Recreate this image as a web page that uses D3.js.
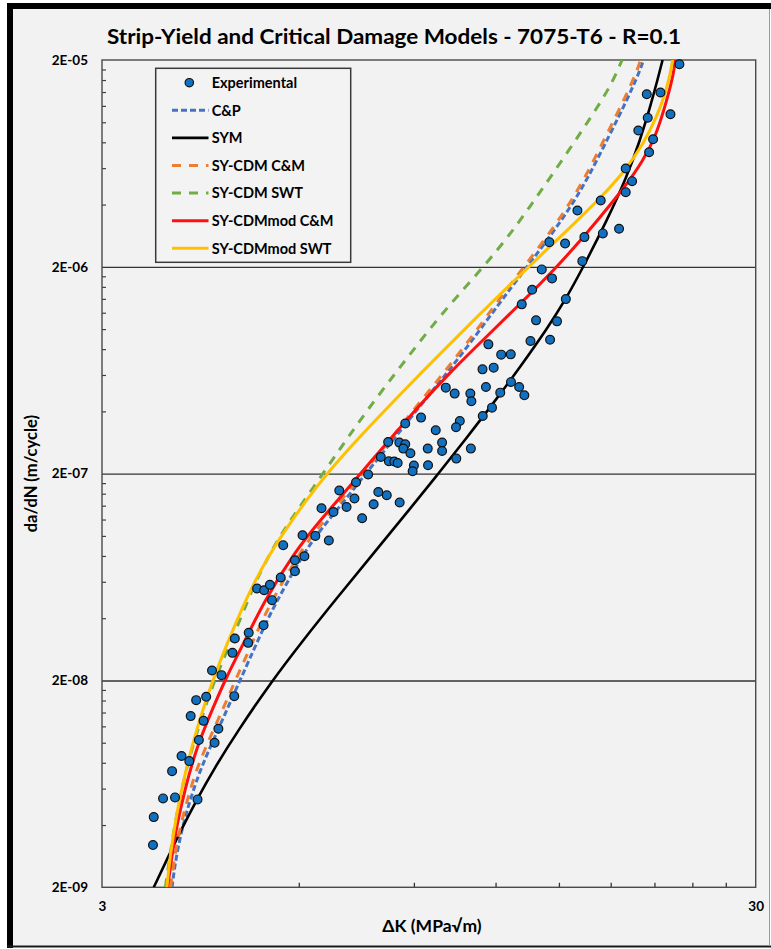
<!DOCTYPE html>
<html>
<head>
<meta charset="utf-8">
<script src="https://cdn.jsdelivr.net/npm/d3@7"></script>
<style>
  body { margin: 0; background: #fff; }
  svg text { font-family: Lato, "Open Sans", sans-serif; font-weight: bold; fill: #000; }
</style>
</head>
<body>
<script>
// ---- data: [deltaK (MPa*sqrt(m)), da/dN (m/cycle)] ----
const experimental = [
  [3.59,3.20e-9],[3.60,4.37e-9],[3.72,5.38e-9],[3.88,5.44e-9],[4.20,5.32e-9],[3.84,7.29e-9],
  [3.97,8.62e-9],[4.08,8.15e-9],[4.10,1.345e-8],[4.22,1.03e-8],[4.18,1.607e-8],[4.33,1.667e-8],
  [4.29,1.276e-8],[4.52,1.168e-8],[4.46,9.99e-9],[4.78,1.68e-8],[4.42,2.236e-8],[4.57,2.122e-8],
  [4.75,2.72e-8],[4.79,3.19e-8],[5.03,3.40e-8],[5.02,3.04e-8],[5.30,3.70e-8],[5.46,4.89e-8],
  [5.18,5.57e-8],[5.31,5.46e-8],[5.42,5.80e-8],[5.63,6.29e-8],[5.92,6.75e-8],[5.92,7.63e-8],
  [6.12,7.98e-8],[5.68,9.02e-8],[6.08,1.008e-7],[6.36,1.000e-7],[6.67,9.50e-8],[6.50,1.36e-7],
  [6.78,1.306e-7],[7.10,1.38e-7],[6.92,1.657e-7],[7.30,1.516e-7],[7.34,1.817e-7],[7.50,1.217e-7],
  [7.66,1.98e-7],[7.94,1.631e-7],[8.18,1.572e-7],[7.81,1.423e-7],[8.56,1.45e-7],[8.01,2.408e-7],
  [8.24,2.295e-7],[8.40,2.288e-7],[8.50,2.252e-7],[9.00,2.188e-7],[8.96,2.053e-7],[9.46,2.196e-7],
  [10.45,2.365e-7],[8.22,2.845e-7],[8.55,2.826e-7],[8.73,2.773e-7],[8.67,2.643e-7],[8.89,2.509e-7],
  [9.45,2.643e-7],[9.94,2.826e-7],[9.94,2.574e-7],[11.00,2.643e-7],[9.23,3.732e-7],[8.73,3.492e-7],
  [10.58,3.593e-7],[10.44,3.35e-7],[9.72,3.24e-7],[11.85,4.171e-7],[11.47,3.799e-7],[10.07,5.211e-7],
  [10.39,4.875e-7],[10.98,4.875e-7],[11.02,4.474e-7],[11.60,5.246e-7],[12.20,4.929e-7],[12.67,5.546e-7],
  [13.04,5.246e-7],[13.28,4.783e-7],[11.46,6.387e-7],[11.92,6.51e-7],[11.70,8.437e-7],[12.24,7.523e-7],
  [12.66,7.549e-7],[13.57,8.751e-7],[14.54,8.887e-7],[13.84,1.102e-6],[13.16,1.317e-6],[14.90,1.09e-6],
  [15.37,1.396e-6],[13.65,1.55e-6],[14.64,1.758e-6],[14.12,1.943e-6],[16.29,2.131e-6],[14.50,2.633e-6],
  [15.33,2.595e-6],[16.41,2.784e-6],[17.51,2.901e-6],[18.54,3.056e-6],[16.01,3.747e-6],[17.38,4.187e-6],
  [18.98,4.592e-6],[19.41,5.19e-6],[18.98,5.977e-6],[20.61,7.166e-6],[20.90,8.281e-6],[19.84,9.124e-6],
  [20.51,1.051e-5],[22.22,1.094e-5],[20.44,1.366e-5],[21.45,1.392e-5],[22.93,1.908e-5]
];

const cpCurve = [
  [3.84,2.00e-9],[3.88,2.61e-9],[3.97,3.78e-9],[4.09,5.28e-9],[4.24,7.38e-9],[4.44,1.030e-8],
  [4.68,1.492e-8],[4.88,2.007e-8],[5.17,3.020e-8],[5.49,4.572e-8],[6.13,8.431e-8],[6.47,1.065e-7],
  [7.10,1.521e-7],[7.71,2.123e-7],[8.08,2.537e-7],[8.98,3.872e-7],[9.99,5.844e-7],[10.97,8.531e-7],
  [12.19,1.346e-6],[13.08,1.808e-6],[14.20,2.538e-6],[15.42,3.644e-6],[16.55,5.23e-6],[17.96,8.794e-6],
  [19.05,1.274e-5],[19.96,1.778e-5],[20.20,2.00e-5]
];

const symCurve = [
  [3.60,2.00e-9],[3.77,2.72e-9],[3.97,3.83e-9],[4.19,5.31e-9],[4.44,7.38e-9],[4.83,1.131e-8],
  [5.46,1.990e-8],[6.03,3.003e-8],[6.89,5.094e-8],[7.90,8.613e-8],[8.88,1.353e-7],[9.81,2.000e-7],
  [10.84,2.984e-7],[11.91,4.386e-7],[13.08,6.546e-7],[14.45,1.024e-6],[15.38,1.403e-6],[16.28,1.950e-6],
  [17.75,3.333e-6],[19.05,5.438e-6],[19.96,8.172e-6],[20.68,1.180e-5],[21.27,1.640e-5],[21.61,2.00e-5]
];

const cdmCM = [
  [3.82,2.00e-9],[3.86,2.61e-9],[3.94,3.78e-9],[4.05,5.28e-9],[4.18,7.38e-9],[4.37,1.030e-8],
  [4.61,1.492e-8],[4.80,2.007e-8],[5.09,3.020e-8],[5.39,4.572e-8],[6.04,8.431e-8],[6.38,1.065e-7],
  [7.01,1.521e-7],[7.62,2.123e-7],[7.99,2.537e-7],[8.88,3.872e-7],[9.87,5.844e-7],[10.85,8.531e-7],
  [12.06,1.346e-6],[12.94,1.808e-6],[14.05,2.538e-6],[15.26,3.644e-6],[16.37,5.23e-6],[17.77,8.794e-6],
  [18.85,1.274e-5],[19.76,1.778e-5],[20.00,2.00e-5]
];

const cdmSWT = [
  [3.75,2.00e-9],[3.81,2.83e-9],[3.89,4.32e-9],[4.03,7.38e-9],[4.21,1.177e-8],[4.44,1.942e-8],
  [4.70,2.963e-8],[5.02,4.889e-8],[5.14,5.907e-8],[5.50,9.015e-8],[5.88,1.245e-7],[6.32,1.719e-7],
  [6.78,2.373e-7],[7.19,3.099e-7],[7.62,4.003e-7],[8.18,5.403e-7],[8.78,7.219e-7],[9.53,1.008e-6],
  [10.34,1.376e-6],[12.19,2.455e-6],[13.71,4.122e-6],[15.42,7.064e-6],[17.34,1.232e-5],[18.15,1.586e-5],
  [18.74,2.00e-5]
];

const modCM = [
  [3.78,2.00e-9],[3.83,2.71e-9],[3.90,3.93e-9],[4.02,6.02e-9],[4.19,9.56e-9],[4.42,1.438e-8],
  [4.65,2.083e-8],[4.97,3.133e-8],[5.30,4.781e-8],[5.89,8.219e-8],[6.47,1.191e-7],[7.10,1.662e-7],
  [7.71,2.270e-7],[8.08,2.682e-7],[9.09,4.139e-7],[10.22,6.178e-7],[11.63,9.221e-7],[13.16,1.346e-6],
  [14.89,1.994e-6],[16.35,2.784e-6],[17.34,3.477e-6],[18.83,4.769e-6],[20.20,6.535e-6],[21.17,8.794e-6],
  [21.93,1.274e-5],[22.47,1.714e-5],[22.59,2.00e-5]
];

const modSWT = [
  [3.77,2.00e-9],[3.81,2.79e-9],[3.90,4.52e-9],[4.02,7.17e-9],[4.19,1.177e-8],[4.41,1.929e-8],
  [4.65,2.970e-8],[4.98,4.921e-8],[5.25,6.871e-8],[5.55,9.278e-8],[6.17,1.506e-7],[6.70,2.081e-7],
  [7.27,2.782e-7],[7.71,3.399e-7],[8.57,4.826e-7],[9.87,7.599e-7],[11.10,1.101e-6],[12.19,1.473e-6],
  [13.71,2.103e-6],[15.42,2.992e-6],[17.34,4.286e-6],[18.83,5.698e-6],[20.20,7.868e-6],[21.17,1.060e-5],
  [21.80,1.366e-5],[22.19,1.697e-5],[22.39,2.00e-5]
];

// axis ticks
const xDomain = [3, 30];
const xMinorTicks = [6, 9, 12, 15, 18, 21, 24, 27];
const xLabelTicks = [3, 30];
const yMajorTicks = [2e-9, 2e-8, 2e-7, 2e-6, 2e-5];
const yMajorLabels = ["2E-09", "2E-08", "2E-07", "2E-06", "2E-05"];
const yGridTicks = [2e-8, 2e-7, 2e-6];

const titleText = "Strip-Yield and Critical Damage Models - 7075-T6 - R=0.1";
const xTitle = "\u0394K (MPa\u221Am)";
const yTitle = "da/dN (m/cycle)";

// series styling table
const series = [
  { name: "C&P",           data: cpCurve,  color: "#4472C4", dash: "6,3", width: 3 },
  { name: "SYM",           data: symCurve, color: "#000000", dash: null,  width: 2.6 },
  { name: "SY-CDM C&M",    data: cdmCM,    color: "#ED7D31", dash: "9,8", width: 3 },
  { name: "SY-CDM SWT",    data: cdmSWT,   color: "#70AD47", dash: "9,8", width: 3 },
  { name: "SY-CDMmod C&M", data: modCM,    color: "#FF1010", dash: null,  width: 3 },
  { name: "SY-CDMmod SWT", data: modSWT,   color: "#FFC000", dash: null,  width: 3 }
];

// ---- layout ----
const W = 771, H = 949;
const plot = { left: 102, right: 755.7, top: 60, bottom: 887.3 };

const svg = d3.select("body").append("svg")
    .attr("width", W).attr("height", H);

// frame
svg.append("rect").attr("x", 0).attr("y", 0).attr("width", W).attr("height", H).attr("fill", "#fff");
svg.append("rect").attr("x", 10).attr("y", 6).attr("width", 759).attr("height", 940).attr("fill", "#f2f2f2");
svg.append("line").attr("x1", 10).attr("x2", 10).attr("y1", 3).attr("y2", 948)
    .attr("stroke", "#000").attr("stroke-width", 6);
svg.append("line").attr("x1", 7).attr("x2", W).attr("y1", 6).attr("y2", 6)
    .attr("stroke", "#000").attr("stroke-width", 6);
svg.append("line").attr("x1", 7).attr("x2", W).attr("y1", 946.5).attr("y2", 946.5)
    .attr("stroke", "#1a1a1a").attr("stroke-width", 2);
svg.append("line").attr("x1", 769.5).attr("x2", 769.5).attr("y1", 9).attr("y2", 946)
    .attr("stroke", "#9a9a9a").attr("stroke-width", 1);

const x = d3.scaleLog().domain(xDomain).range([plot.left, plot.right]);
const y = d3.scaleLog().domain([yMajorTicks[0], yMajorTicks[yMajorTicks.length - 1]])
    .range([plot.bottom, plot.top]);

// title
svg.append("text")
    .attr("x", 394).attr("y", 44)
    .attr("text-anchor", "middle")
    .attr("font-size", 21.5)
    .attr("textLength", 574).attr("lengthAdjust", "spacingAndGlyphs")
    .text(titleText);

// grid lines
svg.append("g")
    .attr("transform", `translate(${plot.left},0)`)
    .call(d3.axisLeft(y).tickValues(yGridTicks).tickSize(-(plot.right - plot.left)).tickFormat(""))
    .call(g => g.select(".domain").remove())
    .call(g => g.selectAll(".tick line").attr("stroke", "#333").attr("stroke-width", 1.4));

// y minor ticks
const yMinor = [];
yMajorTicks.slice(0, -1).forEach(b => d3.range(2, 10).forEach(k => yMinor.push(b * k)));
svg.append("g")
    .attr("transform", `translate(${plot.left},0)`)
    .call(d3.axisLeft(y).tickValues(yMinor).tickSizeInner(-4).tickSizeOuter(0).tickFormat(""))
    .call(g => g.select(".domain").remove())
    .call(g => g.selectAll(".tick line").attr("stroke", "#404040").attr("stroke-width", 1.2));

// y labels
svg.append("g")
    .attr("transform", `translate(${plot.left},0)`)
    .call(d3.axisLeft(y).tickValues(yMajorTicks).tickSizeInner(0).tickSizeOuter(0).tickPadding(14)
        .tickFormat((d, i) => yMajorLabels[i]))
    .call(g => g.select(".domain").remove())
    .call(g => g.selectAll(".tick text").attr("font-size", 13.5)
        .attr("font-family", "Lato, 'Open Sans', sans-serif").attr("font-weight", "bold").attr("fill", "#000"));

// x ticks and labels
svg.append("g")
    .attr("transform", `translate(0,${plot.bottom})`)
    .call(d3.axisBottom(x).tickValues(xMinorTicks).tickSizeInner(-4.5).tickSizeOuter(0).tickFormat(""))
    .call(g => g.select(".domain").remove())
    .call(g => g.selectAll(".tick line").attr("stroke", "#333").attr("stroke-width", 1.3));
svg.append("g")
    .attr("transform", `translate(0,${plot.bottom})`)
    .call(d3.axisBottom(x).tickValues(xLabelTicks).tickSizeInner(0).tickSizeOuter(0).tickPadding(14.5)
        .tickFormat(d3.format("d")))
    .call(g => g.select(".domain").remove())
    .call(g => g.selectAll(".tick text").attr("font-size", 13.5)
        .attr("font-family", "Lato, 'Open Sans', sans-serif").attr("font-weight", "bold").attr("fill", "#000"));

// axis titles
svg.append("text")
    .attr("x", 432).attr("y", 932)
    .attr("text-anchor", "middle").attr("font-size", 17.5)
    .text(xTitle);
svg.append("text")
    .attr("transform", `translate(37,${(plot.top + plot.bottom) / 2}) rotate(-90)`)
    .attr("text-anchor", "middle").attr("font-size", 16.5)
    .text(yTitle);

// plot border
svg.append("rect")
    .attr("x", plot.left).attr("y", plot.top)
    .attr("width", plot.right - plot.left).attr("height", plot.bottom - plot.top)
    .attr("fill", "none").attr("stroke", "#4a4a4a").attr("stroke-width", 1.4);

// clip for curves
svg.append("clipPath").attr("id", "plotClip")
  .append("rect")
    .attr("x", plot.left).attr("y", plot.top)
    .attr("width", plot.right - plot.left).attr("height", plot.bottom - plot.top);

// B-spline smooths out the small reading errors in the traced curves
const line = d3.line()
    .x(d => x(d[0]))
    .y(d => y(d[1]))
    .curve(d3.curveBasis);

const curves = svg.append("g").attr("clip-path", "url(#plotClip)");
series.forEach(s => {
    curves.append("path")
        .datum(s.data)
        .attr("fill", "none")
        .attr("stroke", s.color)
        .attr("stroke-width", s.width)
        .attr("stroke-dasharray", s.dash)
        .attr("d", line);
});

// experimental points
svg.append("g").selectAll("circle")
    .data(experimental)
    .join("circle")
    .attr("cx", d => x(d[0]))
    .attr("cy", d => y(d[1]))
    .attr("r", 4.4)
    .attr("fill", "#1170C0")
    .attr("stroke", "#111")
    .attr("stroke-width", 1.2);

// legend
const legend = svg.append("g");
legend.append("rect")
    .attr("x", 155.7).attr("y", 68.3).attr("width", 195).attr("height", 194)
    .attr("fill", "#f3f3f3").attr("stroke", "#3a3a3a").attr("stroke-width", 1.5);

const legendRows = [{ name: "Experimental", marker: true }].concat(series);
const rowY = i => 82.7 + i * 27.6;
legendRows.forEach((s, i) => {
    const yy = rowY(i);
    if (s.marker) {
        legend.append("circle")
            .attr("cx", 189.3).attr("cy", yy).attr("r", 4.2)
            .attr("fill", "#1170C0").attr("stroke", "#111").attr("stroke-width", 1.2);
    } else {
        legend.append("line")
            .attr("x1", 172).attr("x2", 208.5).attr("y1", yy).attr("y2", yy)
            .attr("stroke", s.color).attr("stroke-width", s.width)
            .attr("stroke-dasharray", s.dash);
    }
    legend.append("text")
        .attr("x", 211.7).attr("y", yy).attr("dy", "0.36em")
        .attr("font-size", 14.5)
        .text(s.name);
});
</script>
</body>
</html>
